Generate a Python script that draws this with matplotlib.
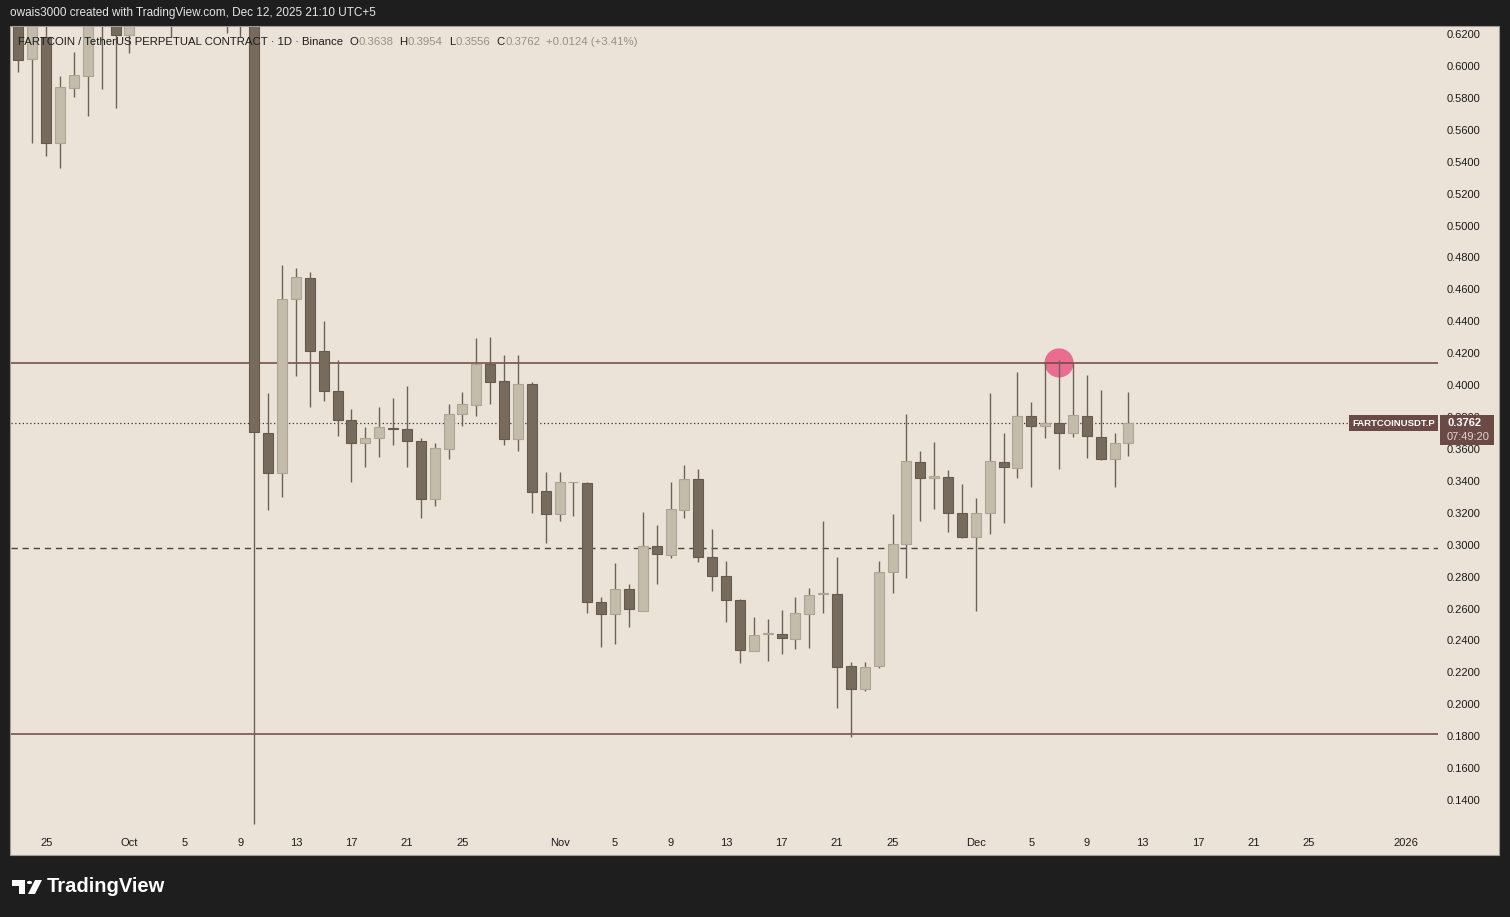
import matplotlib
matplotlib.use("Agg")
import matplotlib.pyplot as plt
import matplotlib.dates as mdates
from matplotlib.patches import Rectangle, Polygon, Circle
import pandas as pd

plt.rcParams['font.family'] = ['Liberation Sans', 'DejaVu Sans']

# daily candles, FARTCOINUSDT.P
dates = pd.date_range("2025-09-23", "2025-12-12", freq="D")
opens = [0.640, 0.6041, 0.618, 0.5515, 0.5860, 0.5939, 0.632, 0.648,
         0.6194, 0.640, 0.660, 0.650, 0.640, 0.660, 0.670, 0.645, 0.635, 0.640,
         0.3698, 0.3447, 0.4538, 0.4669, 0.4214, 0.3961, 0.3781, 0.3635, 0.3667,
         0.3734, 0.3723, 0.3648, 0.3285, 0.3602, 0.3819, 0.3875, 0.4132, 0.4024,
         0.3665, 0.4005, 0.3335,
         0.3191, 0.3390, 0.3385, 0.2639, 0.2564, 0.2721, 0.2587, 0.2990, 0.2938,
         0.3218, 0.3410, 0.2921, 0.2802, 0.2652, 0.2334, 0.2441, 0.2439, 0.2411,
         0.2568, 0.2689, 0.2689, 0.2240, 0.2094, 0.2240, 0.2827, 0.3002, 0.3520,
         0.3416, 0.3427, 0.3197,
         0.3050, 0.3197, 0.3520, 0.3483, 0.3805, 0.3742, 0.3765, 0.3698, 0.3809,
         0.3677, 0.3534, 0.3638]
highs = [0.650, 0.640, 0.630, 0.5937, 0.6089, 0.645, 0.660, 0.655,
         0.650, 0.670, 0.680, 0.665, 0.670, 0.690, 0.680, 0.660, 0.655, 0.660,
         0.3949, 0.4753, 0.4732, 0.4707, 0.4401, 0.4157, 0.3850, 0.3740, 0.3865,
         0.3919, 0.3994, 0.3667, 0.3636, 0.3882, 0.3957, 0.4295, 0.4300, 0.4189,
         0.4189, 0.4022, 0.3454,
         0.3454, 0.3395, 0.3391, 0.2674, 0.2883, 0.2754, 0.3205, 0.3124, 0.3395,
         0.3500, 0.3474, 0.3098, 0.2898, 0.2660, 0.2545, 0.2534, 0.2591, 0.2674,
         0.2731, 0.3149, 0.2925, 0.2267, 0.2265, 0.2898, 0.3192, 0.3819, 0.3587,
         0.3645, 0.3468, 0.3380,
         0.3291, 0.3953, 0.3698, 0.4080, 0.3896, 0.4147, 0.4157, 0.4137, 0.4063,
         0.3969, 0.3698, 0.3954]
lows = [0.5964, 0.5515, 0.5436, 0.5359, 0.5803, 0.5688, 0.5853, 0.5735,
        0.6079, 0.630, 0.635, 0.6183, 0.630, 0.640, 0.635, 0.6204, 0.6183, 0.1250,
        0.3218, 0.3297, 0.4059, 0.3861, 0.3902, 0.3683, 0.3391, 0.3489, 0.3548,
        0.3622, 0.3489, 0.3166, 0.3245, 0.3537, 0.3746, 0.3808, 0.3882, 0.3622,
        0.3587, 0.3197, 0.3013,
        0.3150, 0.3182, 0.2574, 0.2357, 0.2376, 0.2487, 0.2587, 0.2756, 0.2919,
        0.3169, 0.2894, 0.2712, 0.2518, 0.2257, 0.2334, 0.2274, 0.2313, 0.2347,
        0.2355, 0.2574, 0.1975, 0.1795, 0.2085, 0.2228, 0.2696, 0.2790, 0.3150,
        0.3226, 0.3082, 0.3040,
        0.2587, 0.3065, 0.3134, 0.3420, 0.3360, 0.3667, 0.3473, 0.3677, 0.3541,
        0.3531, 0.3360, 0.3556]
closes = [0.6037, 0.632, 0.5515, 0.5870, 0.5943, 0.632, 0.648, 0.6194,
          0.640, 0.660, 0.650, 0.640, 0.660, 0.670, 0.645, 0.635, 0.640, 0.3704,
          0.3447, 0.4538, 0.4676, 0.4214, 0.3961, 0.3781, 0.3635, 0.3667, 0.3736,
          0.3723, 0.3648, 0.3286, 0.3604, 0.3819, 0.3882, 0.4134, 0.4022, 0.3665,
          0.4007, 0.3328, 0.3191,
          0.3391, 0.3392, 0.2639, 0.2564, 0.2722, 0.2596, 0.2990, 0.2940, 0.3222,
          0.3412, 0.2921, 0.2802, 0.2652, 0.2338, 0.2434, 0.2442, 0.2414, 0.2572,
          0.2685, 0.2690, 0.2236, 0.2094, 0.2236, 0.2831, 0.3005, 0.3525, 0.3416,
          0.3431, 0.3197, 0.3050,
          0.3197, 0.3525, 0.3485, 0.3807, 0.3742, 0.3765, 0.3698, 0.3811, 0.3681,
          0.3534, 0.3638, 0.3762]

solid_levels = [0.4139, 0.1812]
dashed_level = 0.2978
last_price = 0.3762
marker_date = "2025-12-07"
marker_price = 0.4139

price_ticks = [0.14, 0.16, 0.18, 0.20, 0.22, 0.24, 0.26, 0.28, 0.30, 0.32, 0.34,
               0.36, 0.38, 0.40, 0.42, 0.44, 0.46, 0.48, 0.50, 0.52, 0.54, 0.56,
               0.58, 0.60, 0.62]
tick_dates = ["2025-09-25", "2025-10-01", "2025-10-05", "2025-10-09", "2025-10-13",
              "2025-10-17", "2025-10-21", "2025-10-25", "2025-11-01", "2025-11-05",
              "2025-11-09", "2025-11-13", "2025-11-17", "2025-11-21", "2025-11-25",
              "2025-12-01", "2025-12-05", "2025-12-09", "2025-12-13", "2025-12-17",
              "2025-12-21", "2025-12-25", "2026-01-01"]
tick_labels = ["25", "Oct", "5", "9", "13", "17", "21", "25", "Nov", "5", "9", "13",
               "17", "21", "25", "Dec", "5", "9", "13", "17", "21", "25", "2026"]

BG = "#ebe3d8"
DARK = "#1e1e1e"
UP, UP_EDGE = "#c4bcab", "#aea493"
DOWN, DOWN_EDGE = "#776b5d", "#665a4d"
WICK = "#6e6255"
TXT = "#1c1c1c"
LABEL_BOX = "#6b4a45"

W, H = 1510, 917
fig = plt.figure(figsize=(W / 100, H / 100), dpi=100, facecolor=DARK)


def fx(x):
    return x / W


def fy(y):
    return 1 - y / H


# beige panel incl. price and time scales
fig.patches.append(Rectangle((fx(10), fy(855)), 1489 / W, 829 / H, transform=fig.transFigure,
                             facecolor=BG, edgecolor="#a29c94", lw=0.8, zorder=-5))

ax = fig.add_axes([fx(10.5), fy(828), 1427.5 / W, 801 / H])
ax.set_facecolor("none")
for s in ax.spines.values():
    s.set_visible(False)

xs = mdates.date2num(dates.to_pydatetime())
for x, o, h, l, c in zip(xs, opens, highs, lows, closes):
    up = c >= o
    ax.vlines(x, l, h, color=WICK, lw=1, zorder=3)
    body = max(abs(c - o), 0.0006)
    ax.bar(x, body, bottom=min(o, c), width=0.72, color=UP if up else DOWN,
           edgecolor=UP_EDGE if up else DOWN_EDGE, linewidth=0.8, zorder=4)

for lv in solid_levels:
    ax.axhline(lv, color="#6e4540", lw=1.1, zorder=2)
ax.axhline(dashed_level, color="#4a4440", lw=1, ls=(0, (4.5, 3.5)), zorder=2)
ax.axhline(last_price, color="#3d3530", lw=0.9, ls=(0, (1, 2)), zorder=2)

mx = mdates.date2num(pd.Timestamp(marker_date).to_pydatetime())
ax.scatter([mx], [marker_price], s=440, color="#e9638b", alpha=0.92, edgecolors="none", zorder=1.5)

x0 = mdates.date2num(pd.Timestamp("2025-10-01").to_pydatetime())
ax.set_xlim(x0 - 8.573, x0 + 94.31)
ax.set_ylim(0.12251, 0.62439)

ax.set_xticks(mdates.date2num(pd.to_datetime(tick_dates).to_pydatetime()))
ax.set_xticklabels(tick_labels)
ax.yaxis.tick_right()
ax.set_yticks(price_ticks)
ax.set_yticklabels(["%.4f" % p for p in price_ticks])
ax.tick_params(axis="x", length=0, pad=7, labelsize=8, colors=TXT)
ax.tick_params(axis="y", length=0, pad=6, labelsize=8, colors=TXT)

# header lines
fig.text(fx(10), fy(13), "owais3000 created with TradingView.com, Dec 12, 2025 21:10 UTC+5",
         color="#e6e6e6", fontsize=8.5, va="center")

renderer = fig.canvas.get_renderer()
VAL = "#9a8f83"
parts = [("FARTCOIN / TetherUS PERPETUAL CONTRACT · 1D · Binance", TXT, 6),
         ("O", TXT, 0.5), ("0.3638", VAL, 6),
         ("H", TXT, 0.5), ("0.3954", VAL, 6),
         ("L", TXT, 0.5), ("0.3556", VAL, 6),
         ("C", TXT, 0.5), ("0.3762", VAL, 6),
         ("+0.0124 (+3.41%)", VAL, 0)]
px = 18
for s, col, gap in parts:
    t = fig.text(fx(px), fy(42), s, color=col, fontsize=8.2, va="center", zorder=6)
    px = t.get_window_extent(renderer).x1 + gap

# last price labels
fig.patches.append(Rectangle((fx(1349), fy(431)), 89 / W, 16 / H, transform=fig.transFigure,
                             facecolor=LABEL_BOX, edgecolor="none", zorder=5))
fig.patches.append(Rectangle((fx(1440), fy(445)), 54 / W, 30 / H, transform=fig.transFigure,
                             facecolor=LABEL_BOX, edgecolor="none", zorder=5))
fig.text(fx(1393.5), fy(423), "FARTCOINUSDT.P", color="white", fontsize=6.8,
         fontweight="bold", ha="center", va="center", zorder=6)
fig.text(fx(1447), fy(423), "0.3762", color="white", fontsize=8,
         fontweight="bold", ha="left", va="center", zorder=6)
fig.text(fx(1447), fy(437), "07:49:20", color="#e3d3cf", fontsize=8,
         ha="left", va="center", zorder=6)

# TradingView logo
fig.patches.append(Polygon([(fx(12), fy(880)), (fx(25), fy(880)), (fx(25), fy(894)),
                            (fx(19), fy(894)), (fx(19), fy(886)), (fx(12), fy(886))],
                           closed=True, transform=fig.transFigure, facecolor="white", zorder=5))
fig.patches.append(Circle((fx(29.5), fy(882.5)), 2.6 / W, transform=fig.transFigure,
                          facecolor="white", zorder=5))
fig.patches.append(Polygon([(fx(35), fy(880)), (fx(42), fy(880)), (fx(35), fy(894)),
                            (fx(28), fy(894))],
                           closed=True, transform=fig.transFigure, facecolor="white", zorder=5))
fig.text(fx(47), fy(887), "TradingView", color="white", fontsize=14.5,
         fontweight="bold", va="center")

plt.savefig("out.png", dpi=100, facecolor=DARK)
